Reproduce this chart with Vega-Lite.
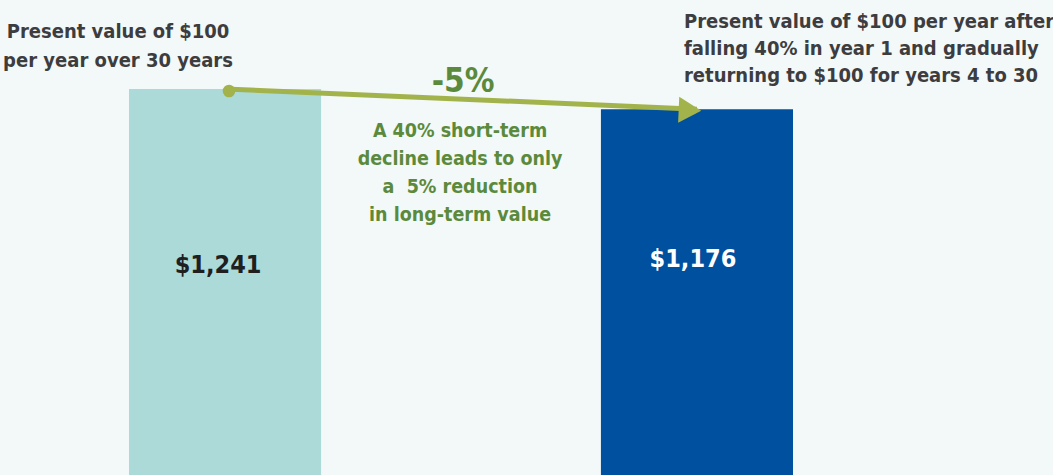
{
  "$schema": "https://vega.github.io/schema/vega-lite/v6.json",
  "width": 1053,
  "height": 475,
  "padding": 0,
  "autosize": {"type": "none"},
  "background": "#f3f8f8",
  "config": {"view": {"stroke": null}, "text": {"font": "DejaVu Sans Condensed", "fontWeight": "bold"}},
  "datasets": {
    "bars": [
      {"scenario": "A", "value": 1241, "label": "$1,241"},
      {"scenario": "B", "value": 1176, "label": "$1,176"}
    ],
    "notes": [
      {"scenario": "A", "value": 1241, "kind": "titleA", "note": "Present value of $100\nper year over 30 years"},
      {"scenario": "B", "value": 1176, "kind": "titleB", "note": "Present value of $100 per year after\nfalling 40% in year 1 and gradually\nreturning to $100 for years 4 to 30"},
      {"scenario": "A", "value": 1241, "kind": "change", "note": "-5%"},
      {"scenario": "A", "value": 1241, "kind": "explain", "note": "A 40% short-term\ndecline leads to only\na \u00a05% reduction\nin long-term value"}
    ]
  },
  "encoding": {
    "x": {"field": "scenario", "type": "nominal", "axis": null,
      "scale": {"domain": ["A", "B"], "range": [129, 793], "paddingInner": 0.593, "paddingOuter": 0}},
    "y": {"field": "value", "type": "quantitative", "axis": null,
      "scale": {"domain": [0, 1527], "nice": false, "zero": true}}
  },
  "layer": [
    {
      "data": {"name": "bars"},
      "mark": {"type": "bar"},
      "encoding": {
        "color": {"field": "scenario", "type": "nominal", "legend": null,
          "scale": {"domain": ["A", "B"], "range": ["#abdad9", "#0050a0"]}}
      }
    },
    {
      "data": {"name": "bars"},
      "mark": {"type": "line", "color": "#a2b34b", "strokeWidth": 5},
      "encoding": {}
    },
    {
      "data": {"name": "bars"},
      "transform": [{"filter": "datum.scenario === 'A'"}],
      "mark": {"type": "point", "shape": "circle", "filled": true, "opacity": 1, "color": "#a2b34b", "size": 160, "xOffset": 4, "yOffset": 2},
      "encoding": {}
    },
    {
      "data": {"name": "bars"},
      "transform": [{"filter": "datum.scenario === 'B'"}],
      "mark": {"type": "point", "shape": "triangle-right", "filled": true, "opacity": 1, "color": "#a2b34b", "size": 680, "angle": 2.5, "xOffset": -7, "yOffset": 1},
      "encoding": {}
    },
    {
      "data": {"name": "bars"},
      "transform": [{"filter": "datum.scenario === 'A'"}],
      "mark": {"type": "text", "fontSize": 25, "color": "#1f1f1f", "align": "center", "baseline": "alphabetic", "dx": -7, "dy": 184},
      "encoding": {"text": {"field": "label", "type": "nominal"}}
    },
    {
      "data": {"name": "bars"},
      "transform": [{"filter": "datum.scenario === 'B'"}],
      "mark": {"type": "text", "fontSize": 25, "color": "#ffffff", "align": "center", "baseline": "alphabetic", "dx": -4, "dy": 158},
      "encoding": {"text": {"field": "label", "type": "nominal"}}
    },
    {
      "data": {"name": "notes"},
      "transform": [{"filter": "datum.kind === 'titleA'"}],
      "mark": {"type": "text", "fontSize": 20, "color": "#3d3d3f", "align": "center", "baseline": "alphabetic", "lineBreak": "\n", "lineHeight": 29, "dx": -107, "dy": -51},
      "encoding": {"text": {"field": "note", "type": "nominal"}}
    },
    {
      "data": {"name": "notes"},
      "transform": [{"filter": "datum.kind === 'titleB'"}],
      "mark": {"type": "text", "fontSize": 20, "color": "#3d3d3f", "align": "left", "baseline": "alphabetic", "lineBreak": "\n", "lineHeight": 27, "dx": -13, "dy": -81},
      "encoding": {"text": {"field": "note", "type": "nominal"}}
    },
    {
      "data": {"name": "notes"},
      "transform": [{"filter": "datum.kind === 'change'"}],
      "mark": {"type": "text", "fontSize": 33, "color": "#5b8a3c", "align": "center", "baseline": "alphabetic", "dx": 238, "dy": 3},
      "encoding": {"text": {"field": "note", "type": "nominal"}}
    },
    {
      "data": {"name": "notes"},
      "transform": [{"filter": "datum.kind === 'explain'"}],
      "mark": {"type": "text", "fontSize": 19.5, "color": "#5b8a3c", "align": "center", "baseline": "alphabetic", "lineBreak": "\n", "lineHeight": 28, "dx": 235, "dy": 48},
      "encoding": {"text": {"field": "note", "type": "nominal"}}
    }
  ]
}
